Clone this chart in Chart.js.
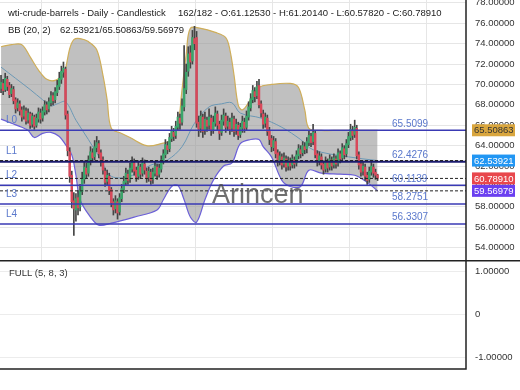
<!DOCTYPE html>
<html>
<head>
<meta charset="utf-8">
<script src="https://cdn.jsdelivr.net/npm/chart.js@4.4.0/dist/chart.umd.min.js"></script>
<style>
  html, body { margin: 0; padding: 0; background: #fff; }
  #wrap { position: relative; width: 520px; height: 390px; }
  canvas { position: absolute; left: 0; display: block; }
  #main { top: 0; }
  #osc { top: 260px; }
</style>
</head>
<body>
<div id="wrap">
  <canvas id="main" width="520" height="260"></canvas>
  <canvas id="osc" width="520" height="130"></canvas>
</div>
<script>
// candles, one per daily bar (182 bars)
const opens = [
  69.6, 70.1, 69.5, 70.5, 69.9, 69.1, 69.5, 68.5, 67.7, 68.1,
  67.5, 66.9, 67.4, 66.5, 67.1, 66.1, 66.8, 66.0, 66.6, 67.2,
  66.7, 67.3, 68.0, 67.6, 68.2, 68.9, 68.5, 69.2, 69.8, 70.5,
  71.2, 71.5, 67.1, 63.4, 61.1, 58.6, 57.7, 58.9, 58.0, 59.5,
  60.7, 61.8, 61.3, 62.5, 63.3, 62.9, 63.8, 64.2, 63.3, 62.6,
  61.5, 60.5, 61.0, 59.7, 58.5, 57.8, 58.5, 57.5, 58.8, 59.7,
  60.4, 61.2, 60.7, 61.7, 62.3, 61.6, 61.0, 61.9, 61.3, 62.2,
  61.5, 60.9, 61.4, 60.7, 61.3, 61.9, 61.2, 61.7, 62.5, 63.1,
  64.0, 63.7, 64.7, 65.3, 65.0, 65.8, 66.7, 66.3, 67.8, 69.5,
  71.3, 73.1, 72.3, 74.5, 74.6, 66.3, 65.7, 66.8, 65.5, 66.5,
  66.0, 66.7, 65.6, 66.2, 67.1, 66.1, 65.3, 66.4, 66.9, 65.9,
  66.3, 65.7, 66.6, 65.5, 66.0, 65.1, 65.7, 66.3, 65.8, 66.8,
  67.7, 68.5, 69.3, 68.9, 69.9, 68.1, 67.1, 66.2, 66.7, 65.5,
  64.7, 63.8, 64.4, 63.3, 62.5, 62.9, 62.2, 62.7, 62.0, 62.4,
  62.1, 62.6, 62.3, 63.0, 63.6, 63.3, 63.9, 63.7, 64.3, 64.9,
  64.4, 65.2, 63.2, 62.5, 62.9, 62.2, 61.7, 62.4, 61.9, 62.6,
  62.1, 62.7, 62.3, 63.2, 62.8, 63.7, 63.2, 64.1, 64.8, 65.5,
  65.1, 65.7, 63.1, 62.2, 61.5, 61.9, 61.1, 60.7, 61.4, 61.9, 61.4, 61.1253
];
const highs = [
  70.9, 70.5, 71.1, 70.8, 70.2, 70.0, 69.8, 68.7, 68.6, 68.4,
  67.8, 67.9, 67.7, 67.6, 67.3, 67.2, 67.0, 67.1, 67.7, 67.6,
  67.8, 68.4, 68.3, 68.7, 69.3, 69.2, 69.7, 70.4, 71.2, 71.8,
  72.2, 71.7, 67.4, 63.8, 61.5, 59.4, 59.3, 59.6, 60.2, 61.4,
  62.5, 62.3, 63.0, 63.9, 63.7, 64.5, 64.9, 64.5, 63.6, 62.9,
  61.8, 61.6, 61.3, 59.9, 58.8, 59.1, 58.8, 59.3, 60.2, 61.0,
  61.8, 61.6, 62.3, 62.9, 62.7, 61.9, 62.5, 62.2, 62.8, 62.6,
  61.8, 61.9, 61.7, 61.8, 62.4, 62.2, 62.2, 63.0, 63.6, 64.6,
  64.4, 65.2, 65.9, 65.7, 66.4, 67.3, 67.1, 68.6, 73.8, 72.0,
  73.7, 73.8, 75.3, 75.7, 75.2, 66.9, 67.4, 67.1, 67.3, 66.8,
  67.6, 67.0, 66.9, 67.8, 67.4, 66.4, 67.0, 67.6, 67.2, 66.9,
  66.7, 67.2, 66.9, 66.6, 66.3, 66.2, 66.9, 66.7, 67.4, 68.3,
  69.1, 69.9, 69.7, 70.3, 70.5, 68.4, 67.5, 67.2, 67.0, 65.8,
  65.0, 64.9, 64.7, 63.6, 63.4, 63.2, 63.3, 63.0, 62.9, 62.8,
  63.1, 62.9, 63.5, 64.1, 64.0, 64.4, 64.3, 64.8, 65.5, 65.2,
  66.1, 65.5, 63.5, 63.4, 63.2, 62.5, 62.9, 62.7, 63.1, 62.9,
  63.2, 63.0, 63.7, 63.5, 64.2, 64.0, 64.6, 65.3, 66.1, 65.9,
  66.5, 66.0, 63.4, 62.5, 62.4, 62.2, 61.4, 61.9, 62.5, 62.2, 61.7, 61.2014
];
const lows = [
  69.2, 69.0, 69.3, 69.4, 68.7, 68.8, 68.1, 67.2, 67.4, 67.0,
  66.4, 66.6, 66.1, 66.2, 65.7, 65.8, 65.6, 65.8, 66.3, 66.2,
  66.4, 67.0, 67.1, 67.3, 67.9, 68.0, 68.2, 68.9, 69.5, 70.1,
  70.7, 66.6, 63.0, 60.4, 57.9, 55.2, 56.6, 57.2, 57.6, 59.2,
  60.3, 60.8, 61.0, 62.1, 62.4, 62.6, 63.4, 62.8, 62.0, 61.2,
  60.0, 60.1, 59.2, 58.0, 57.2, 57.4, 56.8, 57.2, 58.5, 59.4,
  60.1, 60.2, 60.4, 61.4, 61.1, 60.5, 60.7, 60.8, 61.0, 61.2,
  60.4, 60.5, 60.2, 60.3, 61.0, 60.7, 60.9, 61.4, 62.2, 62.8,
  63.2, 63.4, 64.4, 64.5, 64.7, 65.5, 65.6, 66.0, 67.4, 69.1,
  70.8, 71.6, 72.0, 73.4, 65.8, 64.9, 65.3, 64.8, 65.1, 65.4,
  65.6, 65.0, 65.2, 65.9, 65.5, 64.6, 65.0, 66.0, 65.3, 65.5,
  65.1, 65.4, 64.9, 65.1, 64.6, 64.8, 65.3, 65.3, 65.5, 66.5,
  67.4, 68.2, 68.3, 68.6, 67.7, 66.8, 65.7, 65.8, 65.0, 64.1,
  63.4, 63.5, 62.8, 62.0, 62.1, 61.7, 61.9, 61.5, 61.6, 61.6,
  61.8, 61.8, 62.0, 62.7, 62.8, 63.0, 63.2, 63.3, 64.0, 63.9,
  64.1, 62.8, 62.0, 62.1, 61.7, 61.2, 61.4, 61.4, 61.6, 61.6,
  61.8, 61.8, 62.0, 62.3, 62.5, 62.7, 62.9, 63.8, 64.5, 64.6,
  64.8, 62.7, 61.7, 61.0, 61.1, 60.6, 60.2, 60.4, 61.1, 60.9, 60.7, 60.5782
];
const closes = [
  70.2, 69.4, 70.6, 69.8, 69.0, 69.6, 68.4, 67.6, 68.2, 67.4,
  66.8, 67.5, 66.4, 67.2, 66.0, 66.9, 65.9, 66.7, 67.3, 66.6,
  67.4, 68.0, 67.5, 68.3, 68.9, 68.4, 69.3, 69.9, 70.6, 71.3,
  71.6, 67.0, 63.5, 61.0, 58.5, 57.8, 58.8, 57.9, 59.6, 60.8,
  61.9, 61.2, 62.6, 63.4, 62.8, 63.9, 64.3, 63.2, 62.5, 61.6,
  60.4, 61.1, 59.6, 58.4, 57.7, 58.6, 57.4, 58.9, 59.8, 60.5,
  61.3, 60.6, 61.8, 62.4, 61.5, 60.9, 62.0, 61.2, 62.3, 61.6,
  60.8, 61.5, 60.6, 61.4, 62.0, 61.1, 61.8, 62.6, 63.2, 64.1,
  63.6, 64.8, 65.4, 64.9, 65.9, 66.8, 66.2, 67.9, 69.6, 71.2,
  73.0, 72.2, 74.6, 74.0, 66.2, 65.6, 66.9, 65.4, 66.6, 65.9,
  66.8, 65.5, 66.3, 67.2, 66.0, 65.2, 66.5, 67.0, 65.8, 66.4,
  65.6, 66.7, 65.4, 66.1, 65.0, 65.8, 66.4, 65.7, 66.9, 67.8,
  68.6, 69.4, 68.8, 69.8, 68.0, 67.2, 66.1, 66.8, 65.4, 64.6,
  63.9, 64.5, 63.2, 62.4, 63.0, 62.1, 62.8, 61.9, 62.5, 62.0,
  62.7, 62.2, 63.1, 63.7, 63.2, 64.0, 63.6, 64.4, 65.0, 64.3,
  65.3, 63.1, 62.4, 63.0, 62.1, 61.6, 62.5, 61.8, 62.7, 62.0,
  62.8, 62.2, 63.3, 62.7, 63.8, 63.1, 64.2, 64.9, 65.6, 65.0,
  65.8, 63.0, 62.1, 61.4, 62.0, 61.0, 60.6, 61.5, 62.0, 61.3, 61.1, 60.7891
];

// Bollinger bands (20, 2) at these bar indices
const bbUpperIdx = [0, 5, 10, 14, 18, 22, 26, 30, 31, 33, 35, 38, 42, 46, 49, 51, 53, 58, 62, 70, 77, 82, 85, 87, 89, 91, 96, 103, 108, 110, 112, 114, 116, 119, 124, 130, 139, 143, 146, 148, 154, 163, 173, 181];
const bbUpper    = [73.7, 73.9, 73.9, 72.7, 71.4, 70.5, 70.4, 71.0, 71.5, 73.5, 74.4, 74.5, 74.2, 73.4, 70.9, 68.5, 65.7, 65.2, 64.8, 64.0, 64.2, 64.6, 66.0, 69.5, 72.9, 75.5, 75.5, 75.1, 74.6, 73.4, 70.9, 68.0, 67.5, 68.2, 69.7, 70.0, 70.1, 69.7, 67.5, 65.7, 65.5, 65.5, 65.5, 65.50863];
const bbLowerIdx = [0, 5, 10, 13, 16, 20, 24, 28, 31, 34, 36, 38, 43, 47, 53, 64, 75, 78, 82, 85, 88, 91, 94, 98, 102, 107, 111, 115, 120, 124, 126, 130, 135, 139, 144, 148, 154, 163, 170, 176, 181];
const bbLower    = [66.6, 66.2, 65.8, 65.5, 64.8, 65.2, 65.3, 64.9, 64.1, 63.1, 61.1, 58.7, 57.0, 56.2, 56.4, 57.0, 57.7, 58.7, 60.0, 60.1, 58.7, 57.0, 56.5, 58.7, 60.6, 62.0, 62.3, 64.2, 64.6, 64.6, 63.9, 62.9, 60.6, 60.0, 60.0, 61.6, 61.3, 61.2, 61.1, 60.4, 59.56979];
const bbMidIdx   = [0, 7, 14, 20, 24, 27, 31, 36, 42, 48, 53, 62, 72, 80, 87, 93, 100, 106, 111, 115, 125, 135, 144, 150, 167, 181];
const bbMid      = [71.7, 70.6, 69.5, 68.5, 67.9, 68.1, 68.3, 66.5, 64.6, 62.6, 61.0, 61.0, 62.1, 62.6, 63.9, 66.2, 67.8, 68.1, 68.2, 67.2, 66.7, 65.8, 64.6, 63.6, 62.9, 62.53921];

// support / resistance levels
const levelNames  = ['L0', 'L1', 'L2', 'L3', 'L4'];
const levelValues = [65.5099, 62.4276, 60.1139, 58.2751, 56.3307];

// dashed price lines: BB middle, last close, BB lower
const dashValues = [62.53921, 60.78910, 59.56979];

// value tags on the price axis
const tagValues = [65.50863, 62.53921, 60.78910, 59.56979];
const tagColors = ['#d9a63e', '#2196f3', '#e8474c', '#6a3ff0'];
const tagText   = ['#333', '#fff', '#fff', '#fff'];

const priceTicks = [54, 56, 58, 60, 62, 64, 66, 68, 70, 72, 74, 76, 78];
const oscTicks = [-1, 0, 1];

const FONT = '"Liberation Sans", Arial, sans-serif';
const slots = 224;             // bar slots across the plot width
const xMin = -0.5, xMax = slots - 0.5;
const gridBars = [1, 38, 75, 112, 149, 186];

const wickData = closes.map((c, i) => ({ x: i, y: [lows[i], highs[i]] }));
const bodyData = closes.map((c, i) => ({ x: i, y: [opens[i], c] }));
const bodyColors = closes.map((c, i) => c >= opens[i] ? '#3aa56a' : '#d9485a');

const pts = (idx, vals) => idx.map((x, k) => ({ x, y: vals[k] }));
const flat = v => [{ x: xMin, y: v }, { x: xMax, y: v }];

const datasets = [
  { type: 'line', data: pts(bbUpperIdx, bbUpper), borderColor: '#cfae5a', borderWidth: 1.2,
    backgroundColor: 'rgba(150,150,150,0.6)', fill: '+1', pointRadius: 0, tension: 0.35, order: 10 },
  { type: 'line', data: pts(bbLowerIdx, bbLower), borderColor: '#6c60d8', borderWidth: 1.2,
    fill: false, pointRadius: 0, tension: 0.35, order: 9 },
  { type: 'line', data: pts(bbMidIdx, bbMid), borderColor: '#6b98b5', borderWidth: 1,
    fill: false, pointRadius: 0, tension: 0.35, order: 8 },
  { type: 'bar', data: wickData, backgroundColor: '#454545', barThickness: 1, grouped: false, order: 6 },
  { type: 'bar', data: bodyData, backgroundColor: bodyColors, barThickness: 1.8, minBarLength: 1, grouped: false, order: 5 }
];
levelValues.forEach((v, k) => {
  datasets.push({ type: 'line', data: flat(v), borderColor: k === 1 ? '#1c1c70' : '#3a3ab4',
    borderWidth: k === 1 ? 2 : 1.5, pointRadius: 0, fill: false, order: 2 });
});
dashValues.forEach(v => {
  datasets.push({ type: 'line', data: flat(v), borderColor: '#222', borderWidth: 1,
    borderDash: [3, 2], pointRadius: 0, fill: false, order: 1 });
});

const noPad = s => { s.paddingTop = 0; s.paddingBottom = 0; s.paddingLeft = 0; s.paddingRight = 0; };

const mainOverlay = {
  id: 'mainOverlay',
  afterDatasetsDraw(chart) {
    const { ctx } = chart;
    const y = chart.scales.y;
    ctx.save();
    ctx.font = '10px ' + FONT;
    ctx.fillStyle = '#5a78cc';
    ctx.textBaseline = 'middle';
    levelValues.forEach((v, k) => {
      const py = y.getPixelForValue(v);
      ctx.fillText(levelNames[k], 6, py - 10);
      ctx.fillText(v.toFixed(4), 392, py - 6.5);
    });
    // watermark
    ctx.font = '27px ' + FONT;
    ctx.textBaseline = 'alphabetic';
    ctx.fillStyle = 'rgba(75,75,75,0.8)';
    ctx.fillText('Arincen', 212, 203);
    ctx.restore();
  },
  afterDraw(chart) {
    const { ctx, chartArea } = chart;
    const y = chart.scales.y;
    ctx.save();
    ctx.fillStyle = '#222';
    ctx.font = '9.5px ' + FONT;
    ctx.textBaseline = 'middle';
    ctx.fillText('wti-crude-barrels - Daily - Candlestick', 8, 13);
    ctx.fillText('162/182 - O:61.12530 - H:61.20140 - L:60.57820 - C:60.78910', 178, 13);
    ctx.fillText('BB (20, 2)', 8, 30);
    ctx.fillText(bbMid[bbMid.length - 1].toFixed(5) + '/' + bbUpper[bbUpper.length - 1].toFixed(5) + '/' +
      bbLower[bbLower.length - 1].toFixed(5), 60, 30);
    // axis line
    ctx.strokeStyle = '#222';
    ctx.lineWidth = 1.5;
    ctx.beginPath();
    ctx.moveTo(chartArea.right, 0);
    ctx.lineTo(chartArea.right, chart.height);
    ctx.stroke();
    // value tags
    ctx.font = '9.5px ' + FONT;
    tagValues.forEach((v, k) => {
      const py = y.getPixelForValue(v);
      ctx.fillStyle = tagColors[k];
      ctx.fillRect(chartArea.right + 6, py - 6, 43, 12);
      ctx.fillStyle = tagText[k];
      ctx.fillText(v.toFixed(5), chartArea.right + 8, py + 0.5);
    });
    ctx.restore();
  }
};

new Chart(document.getElementById('main'), {
  type: 'bar',
  data: { datasets },
  options: {
    responsive: false,
    animation: false,
    layout: { padding: 0 },
    plugins: { legend: { display: false }, tooltip: { enabled: false } },
    scales: {
      x: {
        type: 'linear', min: xMin, max: xMax, offset: false,
        ticks: { display: false },
        grid: { color: '#e6e6e6', drawTicks: false },
        border: { display: false },
        afterBuildTicks: s => { s.ticks = gridBars.map(v => ({ value: v })); },
        afterFit: s => { s.height = 0; noPad(s); }
      },
      y: {
        position: 'right',
        min: 52.79, max: 78.28,
        ticks: { color: '#333', font: { size: 9.5, family: FONT }, padding: 9,
          callback: v => Number(v).toFixed(5) },
        grid: { color: '#e6e6e6', drawTicks: false },
        border: { display: false },
        afterBuildTicks: s => { s.ticks = priceTicks.map(v => ({ value: v })); },
        afterFit: s => { s.width = 54; noPad(s); }
      }
    }
  },
  plugins: [mainOverlay]
});

const oscOverlay = {
  id: 'oscOverlay',
  afterDraw(chart) {
    const { ctx, chartArea } = chart;
    ctx.save();
    ctx.strokeStyle = '#222';
    ctx.lineWidth = 1.5;
    ctx.beginPath();
    ctx.moveTo(0, 0.75);
    ctx.lineTo(chart.width, 0.75);
    ctx.moveTo(chartArea.right, 0);
    ctx.lineTo(chartArea.right, chartArea.bottom);
    ctx.lineTo(0, chartArea.bottom);
    ctx.stroke();
    ctx.fillStyle = '#333';
    ctx.font = '9.5px ' + FONT;
    ctx.textBaseline = 'middle';
    ctx.fillText('FULL (5, 8, 3)', 9, 13);
    ctx.restore();
  }
};

new Chart(document.getElementById('osc'), {
  type: 'line',
  data: { datasets: [{ data: [], pointRadius: 0 }] },
  options: {
    responsive: false,
    animation: false,
    layout: { padding: { bottom: 21 } },
    plugins: { legend: { display: false }, tooltip: { enabled: false } },
    scales: {
      x: {
        type: 'linear', min: xMin, max: xMax,
        display: true,
        ticks: { display: false },
        grid: { display: false },
        border: { display: false },
        afterFit: s => { s.height = 0; noPad(s); }
      },
      y: {
        position: 'right',
        min: -1.263, max: 1.272,
        ticks: { color: '#333', font: { size: 9.5, family: FONT }, padding: 9,
          callback: v => v === 0 ? '0' : Number(v).toFixed(5) },
        grid: { color: '#ececec', drawTicks: false },
        border: { display: false },
        afterBuildTicks: s => { s.ticks = oscTicks.map(v => ({ value: v })); },
        afterFit: s => { s.width = 54; noPad(s); }
      }
    }
  },
  plugins: [oscOverlay]
});
</script>
</body>
</html>
